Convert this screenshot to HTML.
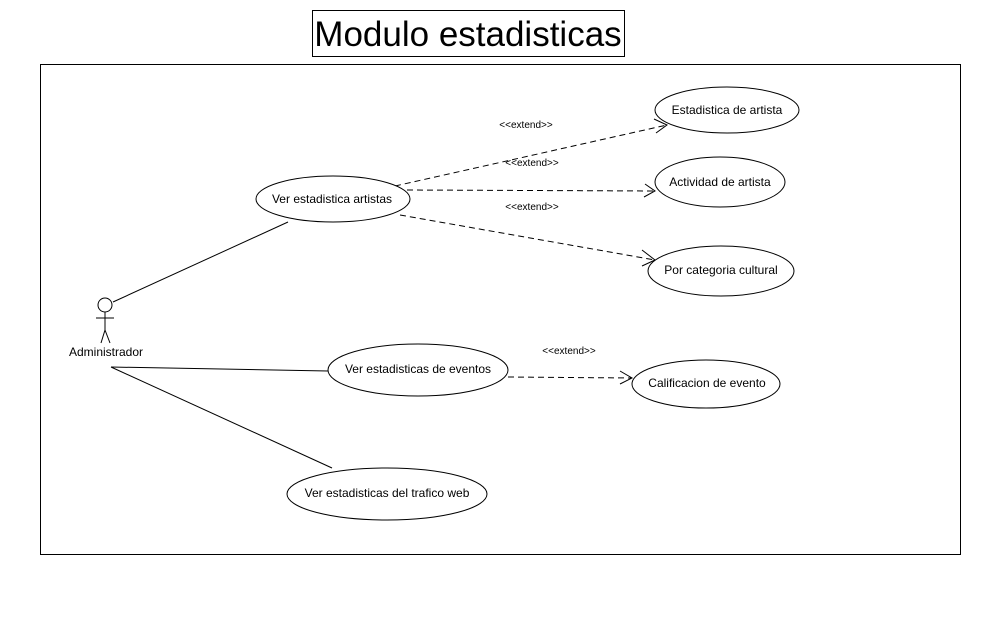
<!DOCTYPE html>
<html><head><meta charset="utf-8"><style>
html,body{margin:0;padding:0;background:#fff;}
svg{display:block;}
text{font-family:"Liberation Sans",sans-serif;fill:#000;}
</style></head><body>
<svg width="1000" height="626" viewBox="0 0 1000 626" xmlns="http://www.w3.org/2000/svg">
<rect x="312.5" y="10.5" width="312" height="46" fill="#fff" stroke="#000"/>
<text x="468" y="46" font-size="35" text-anchor="middle">Modulo estadisticas</text>
<rect x="40.5" y="64.5" width="920" height="490" fill="none" stroke="#000"/>
<g fill="none" stroke="#000" stroke-width="1">
<circle cx="105" cy="305" r="7" fill="#fff"/>
<line x1="105" y1="312" x2="105" y2="330"/>
<line x1="96" y1="318" x2="114" y2="318"/>
<line x1="105" y1="330" x2="101" y2="343"/>
<line x1="105" y1="330" x2="110" y2="343"/>
<line x1="113" y1="302" x2="288" y2="222"/>
<line x1="111" y1="367" x2="328" y2="371"/>
<line x1="111" y1="367" x2="332" y2="468"/>
<g stroke-dasharray="6,4">
<line x1="395" y1="186" x2="667" y2="125"/>
<line x1="407" y1="190" x2="655" y2="191"/>
<line x1="400" y1="215" x2="655" y2="260"/>
<line x1="508" y1="377" x2="632" y2="378"/>
</g>
<polyline points="654,119 667,125 656,133"/>
<polyline points="645,184 655,191 644,197"/>
<polyline points="642,250 655,260 642,266"/>
<polyline points="620,371 632,378 620,384"/>
<g fill="#fff">
<ellipse cx="333" cy="199" rx="77" ry="23"/>
<ellipse cx="727" cy="110" rx="72" ry="23"/>
<ellipse cx="720" cy="182" rx="65" ry="25"/>
<ellipse cx="721" cy="271" rx="73" ry="25"/>
<ellipse cx="418" cy="370" rx="90" ry="26"/>
<ellipse cx="706" cy="384" rx="74" ry="24"/>
<ellipse cx="387" cy="494" rx="100" ry="26"/>
</g>
</g>
<g font-size="12" text-anchor="middle">
<text x="106" y="356">Administrador</text>
<text x="332" y="203">Ver estadistica artistas</text>
<text x="727" y="114">Estadistica de artista</text>
<text x="720" y="186">Actividad de artista</text>
<text x="721" y="274">Por categoria cultural</text>
<text x="418" y="373">Ver estadisticas de eventos</text>
<text x="707" y="387">Calificacion de evento</text>
<text x="387" y="497">Ver estadisticas del trafico web</text>
</g>
<g font-size="10" text-anchor="middle">
<text x="526" y="128">&lt;&lt;extend&gt;&gt;</text>
<text x="532" y="166">&lt;&lt;extend&gt;&gt;</text>
<text x="532" y="210">&lt;&lt;extend&gt;&gt;</text>
<text x="569" y="354">&lt;&lt;extend&gt;&gt;</text>
</g>
</svg>
</body></html>
